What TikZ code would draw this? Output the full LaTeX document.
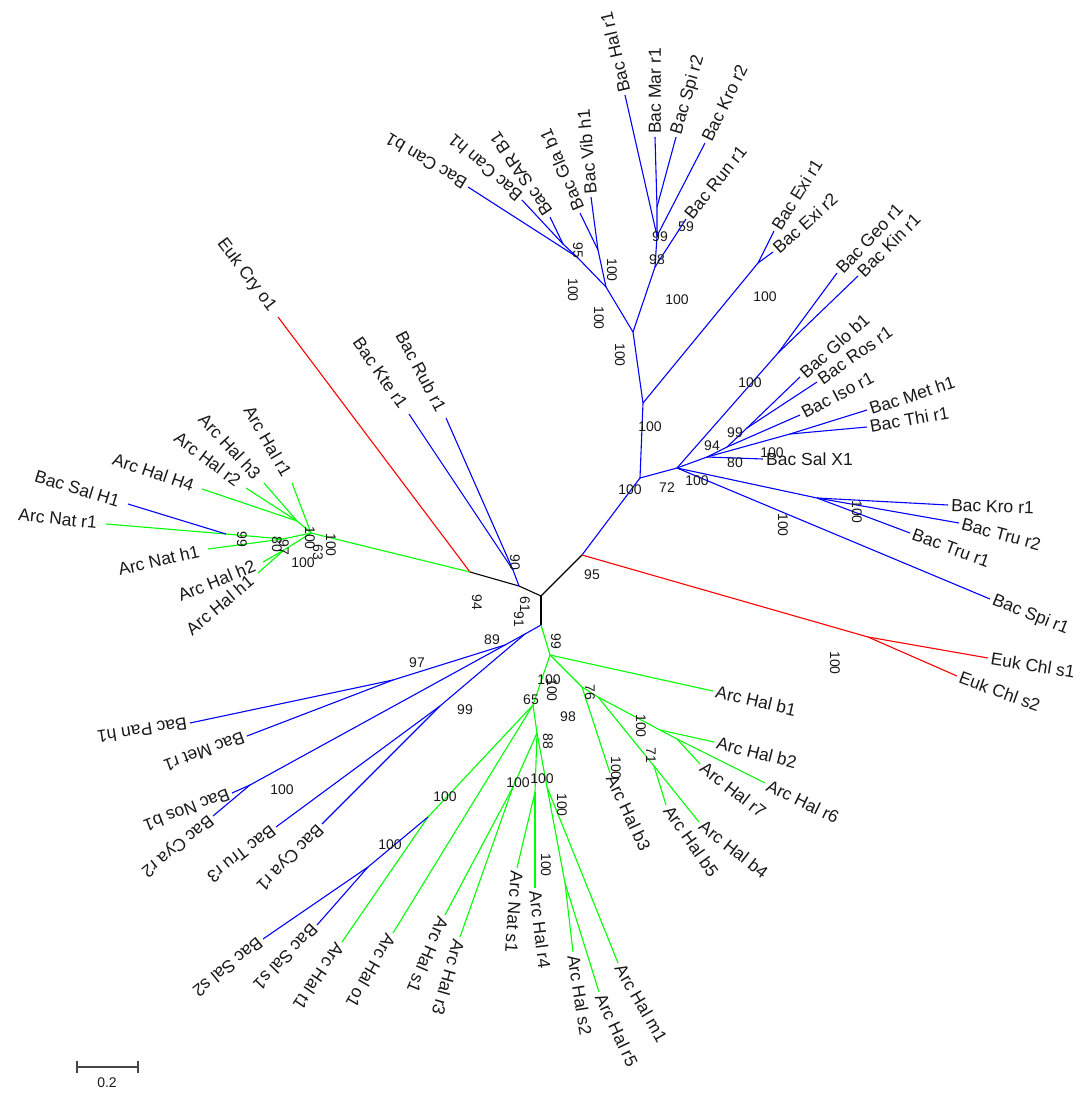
\documentclass[tikz,border=0pt]{standalone}
\usepackage{fontspec}
\setmainfont{Liberation Sans}
\definecolor{tblue}{RGB}{0,0,255}
\definecolor{tgreen}{RGB}{0,255,0}
\definecolor{tred}{RGB}{255,0,0}
\definecolor{tgray}{RGB}{70,70,70}
\begin{document}
\begin{tikzpicture}[x=1pt,y=-1pt,
  bl/.style={draw=tblue,line width=1.1pt},
  gr/.style={draw=tgreen,line width=1.1pt},
  rd/.style={draw=tred,line width=1.1pt},
  bk/.style={draw=black,line width=1.1pt},
  lab/.style={font=\fontsize{17.5}{17.5}\selectfont,inner ysep=1.5pt,inner xsep=3pt,text=black!90},
  labE/.style={lab,inner xsep=9pt,anchor=east},
  labW/.style={lab,anchor=west},
  bs/.style={font=\fontsize{14}{14}\selectfont,inner sep=0pt,text=black!90},
  bsr/.style={bs,rotate=-90}]
\useasboundingbox (0,0) rectangle (1086,1093);
% ---------------- internal points
\coordinate (C0) at (541,596); \coordinate (Cb) at (541,625);
\coordinate (Cl) at (470,572); \coordinate (Ckr) at (519,586);
\coordinate (Cr) at (582,555);
\coordinate (NB) at (640,478); \coordinate (NC) at (643,403);
\coordinate (NE) at (633,332); \coordinate (NF) at (606,287);
\coordinate (GV) at (598,250); \coordinate (CS) at (577,257);
\coordinate (CS2) at (563,244); \coordinate (NR) at (655,267);
\coordinate (NH) at (657,236); \coordinate (NI) at (657,207);
\coordinate (XE) at (758,263);
\coordinate (ND) at (677,468); \coordinate (GK) at (778,353);
\coordinate (N94) at (707,457); \coordinate (N99) at (727,447);
\coordinate (GR) at (747,428); \coordinate (MT) at (790,434);
\coordinate (K) at (817,498);
\coordinate (EC) at (868,637);
\coordinate (KR) at (513,570);
\coordinate (P1) at (311,533); \coordinate (P2) at (297,521);
\coordinate (R) at (283,539); \coordinate (Q) at (226,534);
\coordinate (S) at (284,550);
\coordinate (B1) at (525,634); \coordinate (B2) at (505,645);
\coordinate (PM) at (393,680); \coordinate (NC2) at (250,785);
\coordinate (TC) at (440,706);
\coordinate (G1) at (550,655); \coordinate (V) at (582,687);
\coordinate (W) at (598,697); \coordinate (X) at (660,730);
\coordinate (X2) at (677,739); \coordinate (Y) at (654,766);
\coordinate (G2) at (533,705); \coordinate (ST) at (428,817);
\coordinate (SS) at (368,867); \coordinate (N88) at (537,733);
\coordinate (SR) at (513,787); \coordinate (NR2) at (535,792);
\coordinate (M) at (547,787); \coordinate (SR5) at (565,883);
% ---------------- tips
\coordinate (tCanb1) at (468,187); \coordinate (tCanh1) at (522,200);
\coordinate (tSAR) at (550,217); \coordinate (tGla) at (580,213);
\coordinate (tVib) at (591,197); \coordinate (tHal) at (625,95);
\coordinate (tMar) at (655,137); \coordinate (tSpi2) at (676,137);
\coordinate (tKro2) at (705,143); \coordinate (tRun) at (686,219);
\coordinate (tExi1) at (774,231); \coordinate (tExi2) at (773,252);
\coordinate (tGeo) at (837,273); \coordinate (tKin) at (858,276);
\coordinate (tGlo) at (800,377); \coordinate (tRos) at (817,382);
\coordinate (tIso) at (800,415); \coordinate (tMet) at (867,410);
\coordinate (tThi) at (867,427); \coordinate (tSalX) at (763,459);
\coordinate (tKro1) at (948,505); \coordinate (tTru2) at (959,523);
\coordinate (tTru1) at (910,533); \coordinate (tSpi1) at (990,599);
\coordinate (tChl1) at (988,658); \coordinate (tChl2) at (957,676);
\coordinate (tCry) at (278,317);
\coordinate (tKte) at (409,414); \coordinate (tRub) at (446,418);
\coordinate (tHr1) at (292,483); \coordinate (tH4) at (202,489);
\coordinate (tHr2) at (246,488); \coordinate (tHh3) at (264,483);
\coordinate (tSalH1) at (128,504); \coordinate (tNatr1) at (106,524);
\coordinate (tNath1) at (208,549); \coordinate (tHh2) at (263,562);
\coordinate (tHh1) at (258,573);
\coordinate (tPan) at (190,723); \coordinate (tMetr1) at (247,736);
\coordinate (tNos) at (232,793); \coordinate (tCyar2) at (213,816);
\coordinate (tTru3) at (276,827); \coordinate (tCyar1) at (322,824);
\coordinate (tHb1) at (713,691); \coordinate (tHb3) at (610,773);
\coordinate (tHb2) at (714,742); \coordinate (tHr6) at (765,783);
\coordinate (tHr7) at (700,764); \coordinate (tHb4) at (699,822);
\coordinate (tHb5) at (666,805); \coordinate (tHt1) at (342,942);
\coordinate (tSals1) at (317,925); \coordinate (tSals2) at (263,939);
\coordinate (tHo1) at (393,933); \coordinate (tHs1) at (445,915);
\coordinate (tHr3) at (460,937); \coordinate (tNats1) at (517,868);
\coordinate (tHr4) at (535,888); \coordinate (tHm1) at (618,963);
\coordinate (tHs2) at (573,952); \coordinate (tHr5) at (599,992);
% ---------------- branches
\draw[bk] (C0) -- (Cb); \draw[bk] (C0) -- (Ckr) -- (Cl); \draw[bk] (C0) -- (Cr);
% top blue
\draw[bl] (Cr) -- (NB) -- (NC) -- (NE) -- (NF);
\draw[bl] (NF) -- (GV) -- (tGla); \draw[bl] (GV) -- (tVib);
\draw[bl] (NF) -- (CS) -- (tCanb1); \draw[bl] (CS) -- (CS2) -- (tCanh1); \draw[bl] (CS2) -- (tSAR);
\draw[bl] (NE) -- (NR) -- (tRun); \draw[bl] (NR) -- (NH) -- (tHal); \draw[bl] (NH) -- (tKro2);
\draw[bl] (NH) -- (NI) -- (tMar); \draw[bl] (NI) -- (tSpi2);
\draw[bl] (NC) -- (XE) -- (tExi1); \draw[bl] (XE) -- (tExi2);
% right blue
\draw[bl] (NB) -- (ND) -- (GK) -- (tGeo); \draw[bl] (GK) -- (tKin);
\draw[bl] (ND) -- (N94) -- (tSalX);
\draw[bl] (N94) -- (N99) -- (tIso); \draw[bl] (N99) -- (GR) -- (tGlo); \draw[bl] (GR) -- (tRos);
\draw[bl] (N94) -- (MT) -- (tMet); \draw[bl] (MT) -- (tThi);
\draw[bl] (ND) -- (K) -- (tKro1); \draw[bl] (K) -- (tTru2); \draw[bl] (K) -- (tTru1);
\draw[bl] (ND) -- (tSpi1);
% red
\draw[rd] (Cr) -- (EC) -- (tChl1); \draw[rd] (EC) -- (tChl2);
\draw[rd] (Cl) -- (tCry);
% Kte / Rub
\draw[bl] (Ckr) -- (KR) -- (tKte); \draw[bl] (KR) -- (tRub);
% green left
\draw[gr] (Cl) -- (P1) -- (tHr1);
\draw[gr] (P1) -- (P2) -- (tH4); \draw[gr] (P2) -- (tHr2); \draw[gr] (P2) -- (tHh3);
\draw[gr] (P1) -- (R) -- (Q) -- (tNatr1); \draw[bl] (Q) -- (tSalH1);
\draw[gr] (R) -- (tNath1);
\draw[gr] (P1) -- (S) -- (tHh2); \draw[gr] (S) -- (tHh1);
% blue bottom left
\draw[bl] (Cb) -- (B1) -- (B2) -- (PM) -- (tPan); \draw[bl] (PM) -- (tMetr1);
\draw[bl] (B2) -- (NC2) -- (tNos); \draw[bl] (NC2) -- (tCyar2);
\draw[bl] (B1) -- (TC) -- (tTru3); \draw[bl] (TC) -- (tCyar1);
% green bottom
\draw[gr] (Cb) -- (G1) -- (tHb1);
\draw[gr] (G1) -- (V) -- (tHb3);
\draw[gr] (V) -- (W) -- (X) -- (X2) -- (tHr6); \draw[gr] (X) -- (tHb2); \draw[gr] (X2) -- (tHr7);
\draw[gr] (W) -- (Y) -- (tHb4); \draw[gr] (Y) -- (tHb5);
\draw[gr] (G1) -- (G2) -- (ST) -- (tHt1); \draw[bl] (ST) -- (SS) -- (tSals1); \draw[bl] (SS) -- (tSals2);
\draw[gr] (G2) -- (tHo1);
\draw[gr] (G2) -- (N88) -- (SR) -- (tHs1); \draw[gr] (SR) -- (tHr3);
\draw[gr] (N88) -- (NR2) -- (tNats1); \draw[gr] (NR2) -- (tHr4);
\draw[gr] (N88) -- (M) -- (tHm1); \draw[gr] (M) -- (SR5) -- (tHs2); \draw[gr] (SR5) -- (tHr5);
% ---------------- leaf labels
\node[labW,rotate=149] (lCanb1) at (tCanb1) {Bac Can b1};
\node[labW,rotate=139] (lCanh1) at (tCanh1) {Bac Can h1};
\node[labW,rotate=124] (lSAR) at (tSAR) {Bac SAR B1};
\node[labW,rotate=113] (lGla) at (tGla) {Bac Gla b1};
\node[labW,rotate=95] (lVib) at (tVib) {Bac Vib h1};
\node[labW,rotate=103] (lHal) at (tHal) {Bac Hal r1};
\node[labW,rotate=90] (lMar) at (tMar) {Bac Mar r1};
\node[labW,rotate=74] (lSpi2) at (tSpi2) {Bac Spi r2};
\node[labW,rotate=64] (lKro2) at (tKro2) {Bac Kro r2};
\node[labW,rotate=51] (lRun) at (tRun) {Bac Run r1};
\node[labW,rotate=58] (lExi1) at (tExi1) {Bac Exi r1};
\node[labW,rotate=42] (lExi2) at (tExi2) {Bac Exi r2};
\node[labW,rotate=47] (lGeo) at (tGeo) {Bac Geo r1};
\node[labW,rotate=45] (lKin) at (tKin) {Bac Kin r1};
\node[labW,rotate=42] (lGlo) at (tGlo) {Bac Glo b1};
\node[labW,rotate=35] (lRos) at (tRos) {Bac Ros r1};
\node[labW,rotate=28] (lIso) at (tIso) {Bac Iso r1};
\node[labW,rotate=18] (lMet) at (tMet) {Bac Met h1};
\node[labW,rotate=10] (lThi) at (tThi) {Bac Thi r1};
\node[labW,rotate=0] (lSalX) at (tSalX) {Bac Sal X1};
\node[labW,rotate=-2] (lKro1) at (tKro1) {Bac Kro r1};
\node[labW,rotate=-15] (lTru2) at (tTru2) {Bac Tru r2};
\node[labW,rotate=-20] (lTru1) at (tTru1) {Bac Tru r1};
\node[labW,rotate=-22] (lSpi1) at (tSpi1) {Bac Spi r1};
\node[labW,rotate=-9] (lChl1) at (tChl1) {Euk Chl s1};
\node[labW,rotate=-20] (lChl2) at (tChl2) {Euk Chl s2};
\node[labW,rotate=-13] (lHb1) at (tHb1) {Arc Hal b1};
\node[labW,rotate=-14] (lHb2) at (tHb2) {Arc Hal b2};
\node[labW,rotate=-26] (lHr6) at (tHr6) {Arc Hal r6};
\node[labW,rotate=-38] (lHr7) at (tHr7) {Arc Hal r7};
\node[labW,rotate=-38] (lHb4) at (tHb4) {Arc Hal b4};
\node[labW,rotate=-55] (lHb5) at (tHb5) {Arc Hal b5};
\node[labW,rotate=-65] (lHb3) at (tHb3) {Arc Hal b3};
\node[labW,rotate=-60] (lHm1) at (tHm1) {Arc Hal m1};
\node[labW,rotate=-65] (lHr5) at (tHr5) {Arc Hal r5};
\node[labW,rotate=-81] (lHs2) at (tHs2) {Arc Hal s2};
\node[labW,rotate=-83] (lHr4) at (tHr4) {Arc Hal r4};
\node[labW,rotate=-94] (lNats1) at (tNats1) {Arc Nat s1};
\node[labW,rotate=-106] (lHr3) at (tHr3) {Arc Hal r3};
\node[labW,rotate=-113] (lHs1) at (tHs1) {Arc Hal s1};
\node[labW,rotate=-120] (lHo1) at (tHo1) {Arc Hal o1};
\node[labW,rotate=-124] (lHt1) at (tHt1) {Arc Hal t1};
\node[labW,rotate=-134] (lSals1) at (tSals1) {Bac Sal s1};
\node[labW,rotate=-141] (lSals2) at (tSals2) {Bac Sal s2};
\node[labW,rotate=-135] (lCyar1) at (tCyar1) {Bac Cya r1};
\node[labW,rotate=-142] (lTru3) at (tTru3) {Bac Tru r3};
\node[labW,rotate=-141] (lCyar2) at (tCyar2) {Bac Cya r2};
\node[labW,rotate=-159] (lNos) at (tNos) {Bac Nos b1};
\node[labW,rotate=-160] (lMetr1) at (tMetr1) {Bac Met r1};
\node[labW,rotate=-171] (lPan) at (tPan) {Bac Pan h1};
\node[labE,rotate=40] (lHh1) at (tHh1) {Arc Hal h1};
\node[labE,rotate=22] (lHh2) at (tHh2) {Arc Hal h2};
\node[labE,rotate=13] (lNath1) at (tNath1) {Arc Nat h1};
\node[labE,rotate=-6] (lNatr1) at (tNatr1) {Arc Nat r1};
\node[labE,rotate=-17] (lSalH1) at (tSalH1) {Bac Sal H1};
\node[labE,rotate=-19] (lH4) at (tH4) {Arc Hal H4};
\node[labE,rotate=-37] (lHr2) at (tHr2) {Arc Hal r2};
\node[labE,rotate=-47] (lHh3) at (tHh3) {Arc Hal h3};
\node[labE,rotate=-60] (lHr1) at (tHr1) {Arc Hal r1};
\node[labE,rotate=-53] (lCry) at (tCry) {Euk Cry o1};
\node[labE,rotate=-55] (lKte) at (tKte) {Bac Kte r1};
\node[labE,rotate=-62] (lRub) at (tRub) {Bac Rub r1};
% ---------------- bootstrap values
\node[bs] (b01) at (677,300) {100};
\node[bs] (b02) at (765,297) {100};
\node[bs] (b03) at (657,260) {98};
\node[bs] (b04) at (660,237) {99};
\node[bs] (b05) at (686,227) {59};
\node[bs] (b06) at (650,427) {100};
\node[bs] (b07) at (630,490) {100};
\node[bs] (b08) at (667,488) {72};
\node[bs] (b09) at (697,481) {100};
\node[bs] (b10) at (712,446) {94};
\node[bs] (b11) at (735,433) {99};
\node[bs] (b12) at (735,463) {80};
\node[bs] (b13) at (772,453) {100};
\node[bs] (b14) at (750,383) {100};
\node[bs] (b15) at (592,575) {95};
\node[bs] (b16) at (303,563) {100};
\node[bs] (b17) at (492,640) {89};
\node[bs] (b18) at (417,663) {97};
\node[bs] (b19) at (465,710) {99};
\node[bs] (b20) at (282,790) {100};
\node[bs] (b21) at (390,845) {100};
\node[bs] (b22) at (445,797) {100};
\node[bs] (b23) at (531,700) {65};
\node[bs] (b24) at (549,680) {100};
\node[bs] (b25) at (568,717) {98};
\node[bs] (b26) at (518,783) {100};
\node[bs] (b27) at (542,779) {100};
\node[bsr] (b28) at (578,250) {95};
\node[bsr] (b29) at (612,270) {100};
\node[bsr] (b30) at (573,290) {100};
\node[bsr] (b31) at (599,318) {100};
\node[bsr] (b32) at (620,355) {100};
\node[bsr] (b33) at (477,602) {94};
\node[bsr] (b34) at (515,562) {90};
\node[bsr] (b35) at (519,619) {91};
\node[bsr] (b36) at (525,604) {61};
\node[bsr] (b37) at (556,641) {99};
\node[bsr] (b38) at (552,690) {100};
\node[bsr] (b39) at (590,692) {76};
\node[bsr] (b40) at (548,741) {88};
\node[bsr] (b41) at (641,726) {100};
\node[bsr] (b42) at (651,755) {71};
\node[bsr] (b43) at (616,768) {100};
\node[bsr] (b44) at (562,805) {100};
\node[bsr] (b45) at (546,865) {100};
\node[bsr] (b46) at (835,663) {100};
\node[bsr] (b47) at (857,512) {100};
\node[bsr] (b48) at (783,525) {100};
\node[bsr] (b49) at (242,539) {99};
\node[bsr] (b50) at (277,544) {80};
\node[bsr] (b51) at (284,547) {97};
\node[bsr] (b52) at (310,538) {100};
\node[bsr] (b53) at (318,552) {63};
\node[bsr] (b54) at (331,545) {100};
% ---------------- scale bar
\coordinate (sA) at (77,1067); \coordinate (sB) at (138,1067);
\coordinate (sA1) at (77,1061); \coordinate (sA2) at (77,1073);
\coordinate (sB1) at (138,1061); \coordinate (sB2) at (138,1073);
\draw[draw=tgray,line width=1.1pt] (sA) -- (sB);
\draw[draw=tgray,line width=1.1pt] (sA1) -- (sA2);
\draw[draw=tgray,line width=1.1pt] (sB1) -- (sB2);
\node[bs] (lscale) at (107,1083) {0.2};
\end{tikzpicture}
\end{document}
